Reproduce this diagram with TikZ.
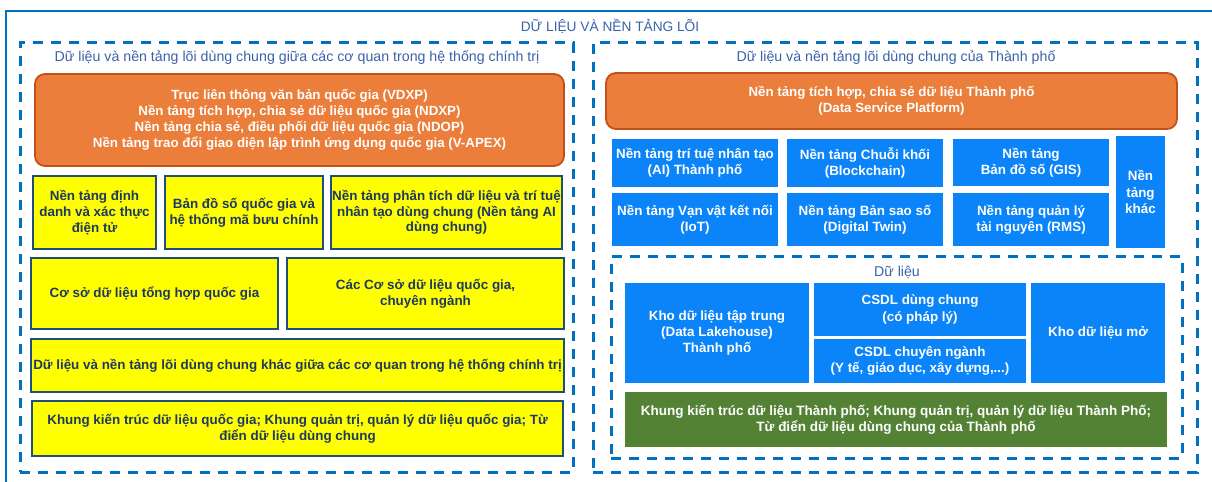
\documentclass[tikz,border=0pt]{standalone}
\usepackage{fontspec}
\setmainfont{Liberation Sans}
\definecolor{frameblue}{HTML}{0070C0}
\definecolor{headblue}{HTML}{3A62A8}
\definecolor{orfill}{HTML}{EA7E3A}
\definecolor{ordraw}{HTML}{C2501A}
\definecolor{yelfill}{HTML}{FFFF00}
\definecolor{yeldraw}{HTML}{1F4E79}
\definecolor{yeltext}{HTML}{1F3864}
\definecolor{bluefill}{HTML}{0A84F8}
\definecolor{greenfill}{HTML}{548235}

% block given by its corners: name, style, x1, y1, x2, y2, text
\newcommand\blk[7]{%
  \node[#2, minimum width={(#5-#3)*1bp}, minimum height={(#6-#4)*1bp}]
    (#1) at ({(#3+#5)/2},{(#4+#6)/2}) {#7};}

\begin{document}
\begin{tikzpicture}[x=1bp, y=-1bp,
  every node/.style={inner sep=0pt, outer sep=0pt, align=center,
    font=\fontsize{13.4bp}{16bp}\selectfont},
  dashframe/.style={draw=frameblue, line width=3bp, dash pattern=on 10bp off 8bp},
  headtext/.style={text=headblue, font=\fontsize{14.2bp}{16bp}\selectfont},
  orangebox/.style={draw=ordraw, line width=1.8bp, fill=orfill, rounded corners=10bp,
    text=white, font=\bfseries\fontsize{13.3bp}{15.8bp}\selectfont},
  yelbox/.style={draw=yeldraw, line width=2bp, fill=yelfill, text=yeltext,
    font=\bfseries\fontsize{13.4bp}{15.7bp}\selectfont},
  bluebox/.style={fill=bluefill, text=white,
    font=\bfseries\fontsize{13.4bp}{16.2bp}\selectfont},
  greenbox/.style={fill=greenfill, text=white,
    font=\bfseries\fontsize{13.5bp}{16.2bp}\selectfont}]
\useasboundingbox (0,0) rectangle (1212,482);

% outer solid frame (runs off the right and bottom edges)
\coordinate (ftr) at (1212,11);
\coordinate (ftl) at (6,11);
\coordinate (fbl) at (6,482);
\draw[frameblue, line width=2bp] (ftr) -- (ftl) -- (fbl);
\node[text=headblue, font=\fontsize{13.7bp}{15bp}\selectfont] (title) at (610,26) {DỮ LIỆU VÀ NỀN TẢNG LÕI};

% ---------- left group ----------
\blk{leftgrp}{dashframe}{20}{43}{573}{472}{}
\node[headtext] (lefthead) at (297,58) {Dữ liệu và nền tảng lõi dùng chung giữa các cơ quan trong hệ thống chính trị};
\blk{axis}{orangebox}{35}{74}{564}{166}{Trục liên thông văn bản quốc gia (VDXP)\\Nền tảng tích hợp, chia sẻ dữ liệu quốc gia (NDXP)\\Nền tảng chia sẻ, điều phối dữ liệu quốc gia (NDOP)\\Nền tảng trao đổi giao diện lập trình ứng dụng quốc gia (V-APEX)}
\blk{ident}{yelbox}{33}{176}{156}{249}{Nền tảng định\\danh và xác thực\\điện tử}
\blk{map}{yelbox}{165}{176}{323}{249}{Bản đồ số quốc gia và\\hệ thống mã bưu chính}
\blk{ai}{yelbox}{331}{176}{562}{249}{Nền tảng phân tích dữ liệu và trí tuệ\\nhân tạo dùng chung (Nền tảng AI\\dùng chung)}
\blk{csdlth}{yelbox}{31}{258}{278}{329}{Cơ sở dữ liệu tổng hợp quốc gia}
\blk{csdlqg}{yelbox}{287}{258}{564}{329}{Các Cơ sở dữ liệu quốc gia,\\chuyên ngành}
\blk{other}{yelbox}{31}{339}{564}{392}{Dữ liệu và nền tảng lõi dùng chung khác giữa các cơ quan trong hệ thống chính trị}
\blk{khungqg}{yelbox}{32}{401}{563}{456}{Khung kiến trúc dữ liệu quốc gia; Khung quản trị, quản lý dữ liệu quốc gia; Từ\\điển dữ liệu dùng chung}

% ---------- right group ----------
\blk{rightgrp}{dashframe}{593}{43}{1197}{472}{}
\node[headtext] (righthead) at (896,58) {Dữ liệu và nền tảng lõi dùng chung của Thành phố};
\blk{dsp}{orangebox}{606}{73}{1177}{129}{Nền tảng tích hợp, chia sẻ dữ liệu Thành phố\\(Data Service Platform)}
\blk{aitp}{bluebox}{612}{139}{778}{187}{Nền tảng trí tuệ nhân tạo\\(AI) Thành phố}
\blk{chain}{bluebox}{787}{139}{943}{187}{Nền tảng Chuỗi khối\\(Blockchain)}
\blk{gis}{bluebox}{953}{139}{1109}{186}{Nền tảng\\Bản đồ số (GIS)}
\blk{iot}{bluebox}{612}{193}{778}{246}{Nền tảng Vạn vật kết nối\\(IoT)}
\blk{twin}{bluebox}{787}{193}{943}{246}{Nền tảng Bản sao số\\(Digital Twin)}
\blk{rms}{bluebox}{953}{193}{1109}{246}{Nền tảng quản lý\\tài nguyên (RMS)}
\blk{khac}{bluebox}{1116}{136}{1165}{248}{Nền\\tảng\\khác}

\blk{datagrp}{dashframe}{611}{257}{1182}{458}{}
\node[headtext] (datahead) at (897,272) {Dữ liệu};
\blk{lake}{bluebox}{625}{283}{809}{383}{Kho dữ liệu tập trung\\(Data Lakehouse)\\Thành phố}
\blk{shared}{bluebox}{814}{283}{1026}{336}{CSDL dùng chung\\(có pháp lý)}
\blk{sector}{bluebox}{814}{339}{1026}{383}{CSDL chuyên ngành\\(Y tế, giáo dục, xây dựng,...)}
\blk{open}{bluebox}{1031}{283}{1165}{383}{Kho dữ liệu mở}
\blk{khungtp}{greenbox}{625}{392}{1167}{447}{Khung kiến trúc dữ liệu Thành phố; Khung quản trị, quản lý dữ liệu Thành Phố;\\Từ điển dữ liệu dùng chung của Thành phố}
\end{tikzpicture}
\end{document}
